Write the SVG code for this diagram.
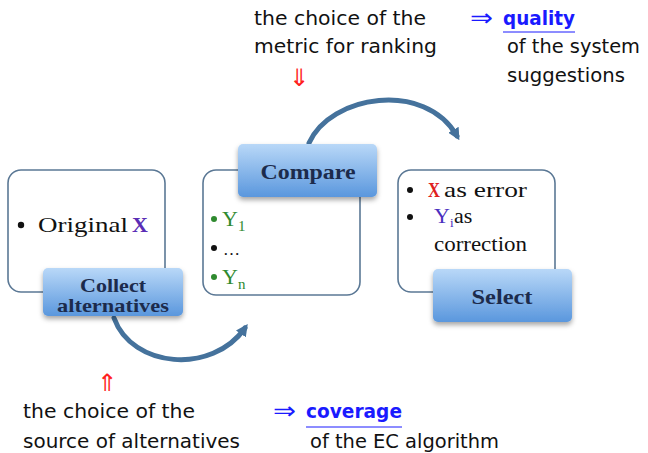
<svg xmlns="http://www.w3.org/2000/svg" width="648" height="453" viewBox="0 0 648 453">
<defs>
<linearGradient id="blu" x1="0" y1="0" x2="0" y2="1">
<stop offset="0" stop-color="#b9d8f8"/>
<stop offset="1" stop-color="#5a97dd"/>
</linearGradient>
<filter id="sh" x="-20%" y="-30%" width="140%" height="170%">
<feDropShadow dx="0" dy="3" stdDeviation="2.5" flood-color="#000" flood-opacity="0.35"/>
</filter>
<filter id="blur" x="-10%" y="-20%" width="120%" height="140%">
<feGaussianBlur stdDeviation="0.6"/>
</filter>
<marker id="ah" viewBox="0 0 10 10" refX="6" refY="5" markerWidth="2.4" markerHeight="2.4" orient="auto">
<path d="M0,0 L10,5 L0,10 z" fill="#44729c"/>
</marker>
<style>
.box{fill:#fff;stroke:#5b7895;stroke-width:1.6}
.btn{fill:url(#blu);filter:url(#sh)}
.bt{font-family:"Liberation Serif","DejaVu Serif",serif;font-weight:bold;font-size:20px;fill:#1c2b4c;text-anchor:middle}
.st{font-family:"Liberation Serif","DejaVu Serif",serif;font-size:22px;fill:#111}
.sa{font-family:"DejaVu Sans","Liberation Sans",sans-serif;font-size:19px;fill:#111}
.ar{font-family:"DejaVu Sans",sans-serif;font-size:24px}
.arc{fill:none;stroke:#44729c;stroke-width:5;stroke-linecap:round}
</style>
</defs>

<g id="connectors" filter="url(#blur)">
<path class="arc" d="M309,143 C330,95 425,80 457,136" marker-end="url(#ah)"/>
<path class="arc" d="M114,318 C132,368 212,375 245,328" marker-end="url(#ah)"/>
</g>

<g id="node-original">
<rect class="box" x="8" y="170" width="157" height="122" rx="13"/>
<circle cx="21" cy="225" r="3.2" fill="#111"/>
<text class="st" x="38" y="232" textLength="90" lengthAdjust="spacingAndGlyphs">Original</text>
<text class="st" x="132" y="232" font-weight="bold" style="fill:#5a2db5">X</text>
</g>

<g id="node-collect">
<rect class="btn" x="43" y="268" width="140" height="48" rx="5"/>
<text class="bt" x="113" y="292" style="font-size:19px" textLength="66" lengthAdjust="spacingAndGlyphs">Collect</text>
<text class="bt" x="113" y="312" style="font-size:19px" textLength="112" lengthAdjust="spacingAndGlyphs">alternatives</text>
</g>

<g id="node-candidates">
<rect class="box" x="203" y="170" width="157" height="125" rx="13"/>
<circle cx="214" cy="219" r="3" fill="#2f8a2f"/>
<text class="st" x="222" y="226" style="fill:#2f8a2f">Y<tspan font-size="15" dy="5">1</tspan></text>
<circle cx="214" cy="248" r="3" fill="#111"/>
<text class="st" x="223" y="255" style="font-size:17px">…</text>
<circle cx="214" cy="277" r="3" fill="#2f8a2f"/>
<text class="st" x="222" y="284" style="fill:#2f8a2f">Y<tspan font-size="15" dy="5">n</tspan></text>
</g>

<g id="node-compare">
<rect class="btn" x="238" y="144" width="139" height="53" rx="5"/>
<text class="bt" x="308" y="179" textLength="95" lengthAdjust="spacingAndGlyphs">Compare</text>
</g>

<g id="node-result">
<rect class="box" x="398" y="170" width="157" height="122" rx="13"/>
<circle cx="410" cy="190" r="3" fill="#111"/>
<text class="st" x="428" y="197" font-weight="bold" textLength="12" lengthAdjust="spacingAndGlyphs" style="fill:#e02020">X</text>
<text class="st" x="444" y="197" textLength="83" lengthAdjust="spacingAndGlyphs">as error</text>
<circle cx="410" cy="217" r="3" fill="#111"/>
<text class="st" x="434" y="223"><tspan fill="#4a2fc0">Y</tspan><tspan fill="#4a2fc0" font-size="13" dy="4">i</tspan><tspan x="454" dy="-4">as</tspan></text>
<text class="st" x="434" y="251" textLength="93" lengthAdjust="spacingAndGlyphs">correction</text>
</g>

<g id="node-select">
<rect class="btn" x="433" y="269" width="139" height="53" rx="5"/>
<text class="bt" x="502" y="304" textLength="61" lengthAdjust="spacingAndGlyphs">Select</text>
</g>

<g id="annotations">
<text class="sa" x="254" y="25" textLength="172" lengthAdjust="spacingAndGlyphs">the choice of the</text>
<text class="sa" x="254" y="53" textLength="183" lengthAdjust="spacingAndGlyphs">metric for ranking</text>
<text class="ar" x="299" y="86" text-anchor="middle" fill="#ff2020">⇓</text>
<text class="ar" x="470" y="26" fill="#1a1aff" textLength="23" lengthAdjust="spacingAndGlyphs">⇒</text>
<text class="sa" x="503" y="25" font-weight="bold" textLength="72" lengthAdjust="spacingAndGlyphs" style="fill:#1a1aff">quality</text>
<line x1="503" y1="32" x2="575" y2="32" stroke="#1a1aff" stroke-width="1"/>
<text class="sa" x="507" y="53" textLength="133" lengthAdjust="spacingAndGlyphs">of the system</text>
<text class="sa" x="507" y="82" textLength="118" lengthAdjust="spacingAndGlyphs">suggestions</text>

<text class="ar" x="107" y="391" text-anchor="middle" fill="#ff2020">⇑</text>
<text class="sa" x="23" y="418" textLength="172" lengthAdjust="spacingAndGlyphs">the choice of the</text>
<text class="sa" x="23" y="448" textLength="217" lengthAdjust="spacingAndGlyphs">source of alternatives</text>
<text class="ar" x="273" y="419" fill="#1a1aff" textLength="23" lengthAdjust="spacingAndGlyphs">⇒</text>
<text class="sa" x="306" y="418" font-weight="bold" textLength="96" lengthAdjust="spacingAndGlyphs" style="fill:#1a1aff">coverage</text>
<line x1="306" y1="427" x2="402" y2="427" stroke="#1a1aff" stroke-width="1"/>
<text class="sa" x="310" y="448" textLength="189" lengthAdjust="spacingAndGlyphs">of the EC algorithm</text>
</g>
</svg>
